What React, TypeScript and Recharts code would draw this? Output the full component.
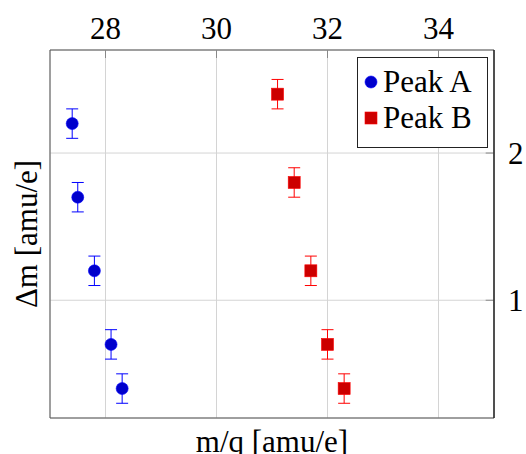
import {
  ScatterChart,
  Scatter,
  XAxis,
  YAxis,
  CartesianGrid,
  ErrorBar,
  ReferenceArea,
  ReferenceLine,
  Label,
} from "recharts";

const peakAMass = [27.4, 27.5, 27.8, 28.1, 28.3];
const peakADelta = [2.2, 1.7, 1.2, 0.7, 0.4];
const peakAErr = [0.1, 0.1, 0.1, 0.1, 0.1];

const peakBMass = [31.1, 31.4, 31.7, 32.0, 32.3];
const peakBDelta = [2.4, 1.8, 1.2, 0.7, 0.4];
const peakBErr = [0.1, 0.1, 0.1, 0.1, 0.1];

const xTicks = [28, 30, 32, 34];
const yTicks = [1, 2];
const xDomain = [27, 35];
const yDomain = [0.2, 2.7];

const FONT = '"Liberation Serif", "DejaVu Serif", serif';

const peakA = peakAMass.map((m, i) => ({ m, d: peakADelta[i], err: peakAErr[i] }));
const peakB = peakBMass.map((m, i) => ({ m, d: peakBDelta[i], err: peakBErr[i] }));

const Dot = (p: any) => (
  <circle cx={p.cx} cy={p.cy} r={6} fill="#0000cc" stroke="#0000ff" strokeWidth={0.6} />
);
const Sq = (p: any) => (
  <rect x={p.cx - 6} y={p.cy - 6} width={12} height={12} fill="#cc0000" stroke="#ff0000" strokeWidth={0.6} />
);

function YLabel({ viewBox }: any) {
  const cx = viewBox.x + 26;
  const cy = viewBox.y + viewBox.height / 2;
  return (
    <text x={cx} y={cy} transform={`rotate(-90, ${cx}, ${cy})`} textAnchor="middle" dominantBaseline="central"
      fontFamily={FONT} fontSize={31} fill="#000">
      Δm [amu/e]
    </text>
  );
}

function XLabel({ viewBox }: any) {
  const cx = viewBox.x + viewBox.width / 2;
  return (
    <text x={cx} y={viewBox.y + 34} textAnchor="middle" fontFamily={FONT} fontSize={31} fill="#000">
      m/q [amu/e]
    </text>
  );
}

// right-hand tick labels, left aligned next to the axis
function RightTick({ x, y, payload }: any) {
  return (
    <text x={x} y={y + 10.5} textAnchor="start" fontFamily={FONT} fontSize={31} fill="#000">
      {payload.value}
    </text>
  );
}

export default function App() {
  const tickStyle = { fontFamily: FONT, fontSize: 31, fill: "#000" };
  return (
    <div style={{ position: "absolute", left: 0, top: 0, width: 526, height: 454, background: "#fff" }}>
      <ScatterChart width={526} height={454} margin={{ top: 10, right: 0, bottom: 0, left: 0 }}>
        <XAxis xAxisId="top" orientation="top" type="number" dataKey="m" domain={xDomain} ticks={xTicks}
          height={40} tick={tickStyle} tickSize={-8} tickMargin={19} tickLine={{ stroke: "#888" }}
          axisLine={false} allowDataOverflow />
        <XAxis xAxisId="bottom" orientation="bottom" type="number" dataKey="m" domain={xDomain} height={36}
          tick={false} tickLine={false} axisLine={false}>
          <Label content={XLabel} />
        </XAxis>
        <YAxis yAxisId="right" orientation="right" type="number" dataKey="d" domain={yDomain} ticks={yTicks}
          width={32} tick={RightTick} tickSize={8} tickMargin={6} tickLine={false}
          axisLine={{ stroke: "#000" }} allowDataOverflow />
        <YAxis yAxisId="left" orientation="left" type="number" dataKey="d" domain={yDomain} width={50}
          tick={false} tickLine={false} axisLine={false}>
          <Label content={YLabel} />
        </YAxis>
        <CartesianGrid xAxisId="top" yAxisId="right" stroke="#d4d4d4" strokeWidth={1} />
        {yTicks.map((t) => (
          <ReferenceLine key={t} xAxisId="top" yAxisId="right"
            segment={[{ x: xDomain[1] - 0.15, y: t }, { x: xDomain[1], y: t }]} stroke="#888" />
        ))}
        <ReferenceArea xAxisId="top" yAxisId="right" x1={xDomain[0]} x2={xDomain[1]} y1={yDomain[0]} y2={yDomain[1]}
          fill="none" stroke="#555" strokeWidth={1} fillOpacity={0} />
        <Scatter name="Peak A" data={peakA} xAxisId="top" yAxisId="right" shape={Dot} isAnimationActive={false}>
          <ErrorBar dataKey="err" direction="y" width={6} stroke="#0000ff" strokeWidth={1} isAnimationActive={false} />
        </Scatter>
        <Scatter name="Peak B" data={peakB} xAxisId="top" yAxisId="right" shape={Sq} isAnimationActive={false}>
          <ErrorBar dataKey="err" direction="y" width={6} stroke="#ff0000" strokeWidth={1} isAnimationActive={false} />
        </Scatter>
      </ScatterChart>
      <div style={{ position: "absolute", left: 357, top: 57, width: 129, height: 83, border: "1px solid #222",
        background: "#fff", fontFamily: FONT, fontSize: 31, color: "#000", paddingTop: 6, boxSizing: "content-box" }}>
        {[{ n: "Peak A", c: Dot }, { n: "Peak B", c: Sq }].map((e) => (
          <div key={e.n} style={{ display: "flex", alignItems: "center", height: 36, lineHeight: "36px" }}>
            <svg width={25} height={36} style={{ flex: "none" }}>
              <e.c cx={13} cy={18} />
            </svg>
            <span>{e.n}</span>
          </div>
        ))}
      </div>
    </div>
  );
}
